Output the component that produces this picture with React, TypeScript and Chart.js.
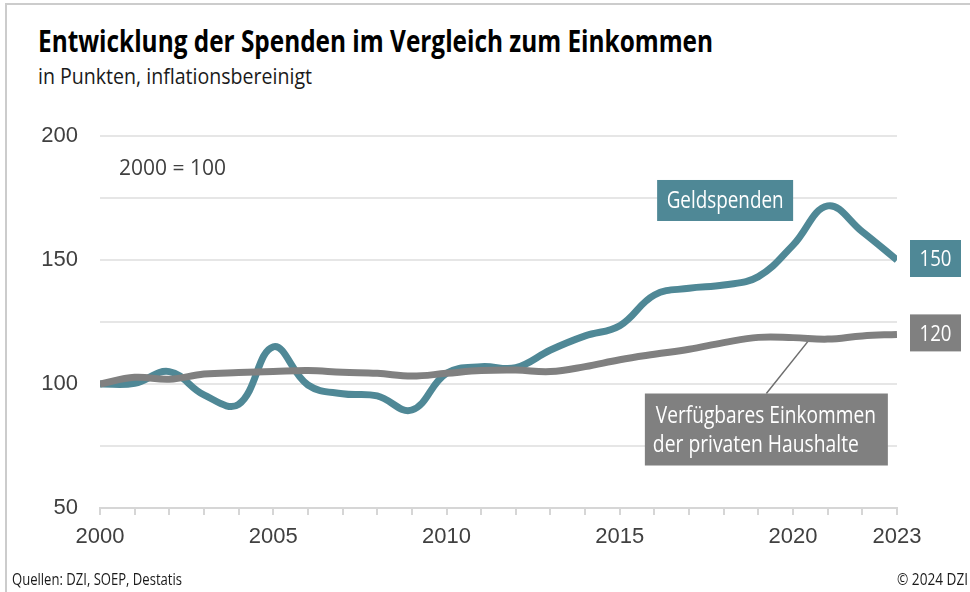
import React, { useEffect, useLayoutEffect, useRef } from 'react';
import { Chart, registerables } from 'chart.js';

Chart.register(...registerables);

const years = [2000, 2001, 2002, 2003, 2004, 2005, 2006, 2007, 2008, 2009, 2010, 2011, 2012, 2013, 2014, 2015, 2016, 2017, 2018, 2019, 2020, 2021, 2022, 2023];
const geldspenden = [100, 100.3, 105, 95.6, 91.8, 115, 99.6, 96.1, 95.2, 89.5, 104.3, 107, 106.6, 113.7, 119.4, 123.5, 135.9, 138.6, 139.9, 143.3, 156, 171.8, 161.4, 150];
const einkommen = [100, 102.7, 101.9, 104, 104.6, 105, 105.4, 104.7, 104.3, 103.2, 104.3, 105.4, 105.6, 105, 107, 109.8, 112, 114, 116.7, 118.8, 118.7, 118.1, 119.4, 120];
const labeledYears = [2000, 2005, 2010, 2015, 2020, 2023];
const yTickLabels = [50, 100, 150, 200];

const TITLE = 'Entwicklung der Spenden im Vergleich zum Einkommen';
const SUBTITLE = 'in Punkten, inflationsbereinigt';
const SOURCE = 'Quellen: DZI, SOEP, Destatis';
const COPYRIGHT = '\u00A9 2024 DZI';
const BASE_NOTE = '2000 = 100';
const LABEL_SPENDEN = 'Geldspenden';
const LABEL_EINK = ['Verf\u00FCgbares Einkommen', 'der privaten Haushalte'];

const TEAL = '#4f8896';
const GRAY = '#808080';
const WORD_FF = "'Open Sans', 'Liberation Sans', sans-serif";
const NUM_FF = "'Liberation Sans', 'Open Sans', sans-serif";

function fitText(ctx: CanvasRenderingContext2D, text: string, x: number, y: number, target: number) {
  const w = ctx.measureText(text).width;
  const s = w > 0 ? target / w : 1;
  ctx.save();
  ctx.translate(x, y);
  ctx.scale(s, 1);
  ctx.textAlign = 'left';
  ctx.fillText(text, 0, 0);
  ctx.restore();
}

const annotations = {
  id: 'annotations',
  beforeDatasetsDraw(chart: any) {
    const { ctx, scales } = chart;
    const x = scales.x;
    const y = scales.y;
    const px1 = x.getPixelForValue(2020.5);
    const py1 = y.getPixelForValue(118.4);
    const px2 = x.getPixelForValue(2019.23);
    const py2 = y.getPixelForValue(81.65) - 36;
    ctx.save();
    ctx.strokeStyle = '#6e6e6e';
    ctx.lineWidth = 1.5;
    ctx.beginPath();
    ctx.moveTo(px1, py1);
    ctx.lineTo(px2, py2);
    ctx.stroke();
    ctx.restore();
  },
  afterDraw(chart: any) {
    const { ctx, scales, chartArea } = chart;
    const x = scales.x;
    const y = scales.y;
    ctx.save();
    ctx.textBaseline = 'alphabetic';

    // base note
    ctx.font = `22px ${WORD_FF}`;
    ctx.fillStyle = '#404040';
    fitText(ctx, BASE_NOTE, chartArea.left + 19, y.getPixelForValue(184.3), 107);

    // Geldspenden label
    const gx = x.getPixelForValue(2018.04);
    const gy = y.getPixelForValue(174.0);
    ctx.fillStyle = TEAL;
    ctx.fillRect(gx - 68, gy - 20.5, 136, 41);
    ctx.fillStyle = '#ffffff';
    ctx.font = `23px ${WORD_FF}`;
    fitText(ctx, LABEL_SPENDEN, gx - 58.5, gy + 8, 117);

    // income label (two lines)
    const ex = x.getPixelForValue(2019.23);
    const ey = y.getPixelForValue(81.65);
    ctx.fillStyle = GRAY;
    ctx.fillRect(ex - 121.5, ey - 36, 243, 72);
    ctx.fillStyle = '#ffffff';
    ctx.font = `23px ${WORD_FF}`;
    fitText(ctx, LABEL_EINK[0], ex - 110.5, ey - 6.8, 220);
    fitText(ctx, LABEL_EINK[1], ex - 113.5, ey + 22.2, 206);

    // end value boxes
    const endBoxes = [
      { v: geldspenden[geldspenden.length - 1], c: TEAL },
      { v: einkommen[einkommen.length - 1], c: GRAY },
    ];
    endBoxes.forEach((b) => {
      const cy = y.getPixelForValue(b.v) - 1.5;
      const left = chartArea.right + 13;
      ctx.fillStyle = b.c;
      ctx.fillRect(left, cy - 18.5, 51, 37);
      ctx.fillStyle = '#ffffff';
      ctx.font = `22px ${WORD_FF}`;
      fitText(ctx, String(Math.round(b.v)), left + 9.5, cy + 7.8, 32);
    });
    ctx.restore();
  },
};

function LineChart() {
  const ref = useRef<HTMLCanvasElement | null>(null);
  useEffect(() => {
    if (!ref.current) return;
    const chart = new Chart(ref.current, {
      type: 'line',
      data: {
        datasets: [
          {
            label: 'Verfügbares Einkommen der privaten Haushalte',
            data: years.map((yr, i) => ({ x: yr, y: einkommen[i] })),
            borderColor: GRAY,
            borderWidth: 7,
            pointRadius: 0,
            tension: 0.4,
            borderJoinStyle: 'round',
            fill: false,
          },
          {
            label: 'Geldspenden',
            data: years.map((yr, i) => ({ x: yr, y: geldspenden[i] })),
            borderColor: TEAL,
            borderWidth: 7,
            pointRadius: 0,
            tension: 0.4,
            borderJoinStyle: 'round',
            fill: false,
          },
        ],
      },
      options: {
        responsive: false,
        animation: false,
        devicePixelRatio: 1,
        layout: { padding: { left: 0, top: 136, right: 73, bottom: 0 } },
        plugins: {
          legend: { display: false },
          tooltip: { enabled: false },
          title: { display: false },
        },
        scales: {
          x: {
            type: 'linear',
            min: 2000,
            max: 2023,
            afterFit(scale: any) {
              scale.height = 84;
            },
            afterBuildTicks(scale: any) {
              scale.ticks = years.map((v) => ({ value: v }));
            },
            ticks: {
              autoSkip: false,
              maxRotation: 0,
              padding: 9,
              color: '#404040',
              font: { family: NUM_FF, size: 22 },
              callback: (v: any) => (labeledYears.includes(Number(v)) ? String(v) : ''),
            },
            grid: {
              drawOnChartArea: false,
              drawTicks: true,
              tickLength: 7,
              color: '#d6d6d6',
              lineWidth: 2,
            },
            border: { display: true, color: '#d6d6d6', width: 2 },
          },
          y: {
            type: 'linear',
            min: 50,
            max: 200,
            afterFit(scale: any) {
              scale.width = 100;
            },
            ticks: {
              stepSize: 25,
              padding: 22,
              color: '#404040',
              font: { family: NUM_FF, size: 22 },
              callback: (v: any) => (yTickLabels.includes(Number(v)) ? String(v) : ''),
            },
            grid: {
              drawTicks: false,
              color: '#e6e6e6',
              lineWidth: 2,
            },
            border: { display: false },
          },
        },
      },
      plugins: [annotations],
    });
    return () => chart.destroy();
  }, []);
  return (
    <canvas
      ref={ref}
      width={970}
      height={592}
      style={{ position: 'absolute', left: 0, top: 0, width: 970, height: 592 }}
    />
  );
}

function FitText(props: { text: string; left: number; top: number; width: number; size: number; weight?: number; color: string }) {
  const ref = useRef<HTMLSpanElement | null>(null);
  useLayoutEffect(() => {
    const el = ref.current;
    if (!el) return;
    el.style.transform = 'none';
    const w = el.getBoundingClientRect().width;
    if (w > 0) el.style.transform = `scaleX(${props.width / w})`;
  }, [props.text, props.width]);
  return (
    <span
      ref={ref}
      style={{
        position: 'absolute',
        left: props.left,
        top: props.top,
        display: 'inline-block',
        whiteSpace: 'nowrap',
        fontFamily: WORD_FF,
        fontSize: props.size,
        lineHeight: `${props.size}px`,
        fontWeight: props.weight || 400,
        color: props.color,
        transformOrigin: 'left top',
      }}
    >
      {props.text}
    </span>
  );
}

export default function App() {
  return (
    <div
      style={{
        position: 'absolute',
        left: 0,
        top: 0,
        width: 970,
        height: 592,
        background: '#ffffff',
        overflow: 'hidden',
      }}
    >
      <div
        style={{
          position: 'absolute',
          left: 5,
          top: 3,
          width: 990,
          height: 620,
          borderTop: '2px solid #cccccc',
          borderLeft: '2px solid #cccccc',
        }}
      />
      <FitText text={TITLE} left={38} top={26} width={675} size={30} weight={700} color="#000000" />
      <FitText text={SUBTITLE} left={38} top={64} width={274} size={22} color="#1a1a1a" />
      <LineChart />
      <FitText text={SOURCE} left={12} top={571} width={170} size={16} color="#1a1a1a" />
      <FitText text={COPYRIGHT} left={897} top={571} width={71} size={16} color="#1a1a1a" />
    </div>
  );
}
